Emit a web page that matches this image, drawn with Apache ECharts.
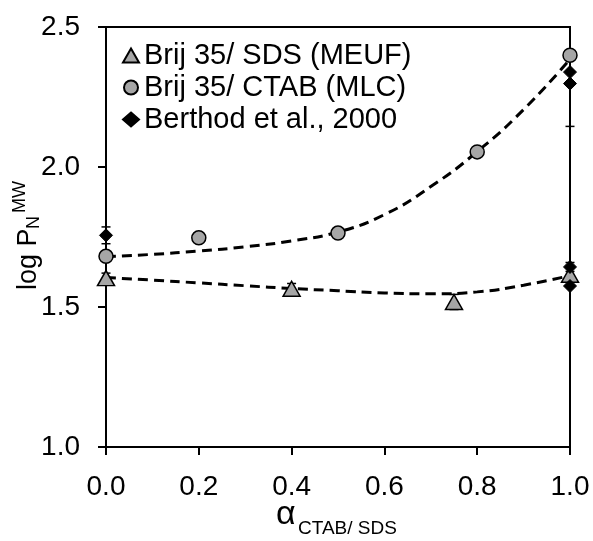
<!DOCTYPE html>
<html>
<head>
<meta charset="utf-8">
<script src="https://cdn.jsdelivr.net/npm/echarts@6/dist/echarts.min.js"></script>
<style>
  html, body { margin: 0; padding: 0; background: #fff; }
  #chart { width: 593px; height: 541px; }
</style>
</head>
<body>
<div id="chart"></div>
<script>
// Partition coefficient (log P) versus CTAB/SDS mole fraction
const FONT = '"Liberation Sans", Arial, sans-serif';

const xTickValues = [0, 0.2, 0.4, 0.6, 0.8, 1.0];
const yTickValues = [1.0, 1.5, 2.0, 2.5];

// Brij 35/ SDS (MEUF)
const meufPoints = [[0, 1.603], [0.4, 1.565], [0.75, 1.518], [1.0, 1.615]];
// Brij 35/ CTAB (MLC)
const mlcPoints = [[0, 1.681], [0.2, 1.747], [0.5, 1.764], [0.8, 2.054], [1.0, 2.399]];
// Berthod et al., 2000
const berthodPoints = [[0, 1.756], [1.0, 2.339], [1.0, 2.298], [1.0, 1.643], [1.0, 1.575]];

// error bars: [x, y, half-width]
const errorBars = [
  [0, 1.603, 0.018], [0.4, 1.565, 0.019], [0.75, 1.518, 0.027],
  [0, 1.756, 0.030], [1.0, 1.643, 0.016], [1.0, 2.399, 0.254]
];

// dashed trend curves
const mlcTrend = [[0, 1.680], [0.1, 1.688], [0.2, 1.700], [0.3, 1.715], [0.4, 1.736],
  [0.5, 1.768], [0.6, 1.830], [0.7, 1.930], [0.8, 2.055], [0.9, 2.205], [1.0, 2.385]];
const meufTrend = [[0, 1.605], [0.1, 1.596], [0.2, 1.586], [0.3, 1.576], [0.4, 1.566],
  [0.5, 1.558], [0.6, 1.550], [0.7, 1.547], [0.8, 1.554], [0.9, 1.578], [1.0, 1.612]];

const GREY = '#a6a6a6';
const Y_MAX = 2.5, Y_MIN = 1.0;

const chart = echarts.init(document.getElementById('chart'), null, { renderer: 'canvas' });

function errorRender(params, api) {
  const x = api.value(0), y = api.value(1), e = api.value(2);
  const hi = Math.min(y + e, Y_MAX), lo = Math.max(y - e, Y_MIN);
  const pHi = api.coord([x, hi]);
  const pLo = api.coord([x, lo]);
  const cap = 4.5;
  const style = { stroke: '#000', lineWidth: 1.5 };
  const children = [{ type: 'line', shape: { x1: pHi[0], y1: pHi[1], x2: pLo[0], y2: pLo[1] }, style }];
  if (y + e <= Y_MAX) children.push({ type: 'line', shape: { x1: pHi[0] - cap, y1: pHi[1], x2: pHi[0] + cap, y2: pHi[1] }, style });
  if (y - e >= Y_MIN) children.push({ type: 'line', shape: { x1: pLo[0] - cap, y1: pLo[1], x2: pLo[0] + cap, y2: pLo[1] }, style });
  return { type: 'group', children };
}

const trendStyle = { color: '#000', width: 3, type: [10, 6] };

chart.setOption({
  animation: false,
  backgroundColor: '#fff',
  grid: { left: 106, right: 23, top: 27, bottom: 94, show: true, borderColor: '#000', borderWidth: 2, backgroundColor: 'transparent' },
  legend: {
    orient: 'vertical', left: 122, top: 41, itemGap: 3, padding: 0,
    itemWidth: 16, itemHeight: 14,
    textStyle: { fontFamily: FONT, fontSize: 29, color: '#000' },
    data: ['Brij 35/ SDS (MEUF)', 'Brij 35/ CTAB (MLC)', 'Berthod et al., 2000']
  },
  xAxis: {
    type: 'value', min: 0, max: 1, interval: 0.2,
    axisLine: { lineStyle: { color: '#000', width: 2 } },
    axisTick: { length: 8, lineStyle: { color: '#000', width: 2 } },
    splitLine: { show: false },
    axisLabel: { margin: 26, fontFamily: FONT, fontSize: 28, color: '#000',
      formatter: v => xTickValues.some(t => Math.abs(t - v) < 1e-9) ? v.toFixed(1) : '' }
  },
  yAxis: {
    type: 'value', min: Y_MIN, max: Y_MAX, interval: 0.5,
    axisLine: { show: true, lineStyle: { color: '#000', width: 2 } },
    axisTick: { show: true, length: 8, lineStyle: { color: '#000', width: 2 } },
    splitLine: { show: false },
    axisLabel: { margin: 26, fontFamily: FONT, fontSize: 28, color: '#000',
      formatter: v => yTickValues.some(t => Math.abs(t - v) < 1e-9) ? v.toFixed(1) : '' }
  },
  series: [
    { name: 'meufTrend', type: 'line', data: meufTrend, smooth: 0.5, symbol: 'none', lineStyle: trendStyle, z: 2 },
    { name: 'mlcTrend', type: 'line', data: mlcTrend, smooth: 0.5, symbol: 'none', lineStyle: trendStyle, z: 2 },
    { name: 'errors', type: 'custom', renderItem: errorRender, data: errorBars, z: 3 },
    { name: 'Brij 35/ SDS (MEUF)', type: 'scatter', data: meufPoints, symbol: 'triangle', symbolSize: [17, 15], clip: false,
      itemStyle: { color: GREY, borderColor: '#000', borderWidth: 1.5, opacity: 1 }, z: 4 },
    { name: 'Brij 35/ CTAB (MLC)', type: 'scatter', data: mlcPoints, symbol: 'circle', symbolSize: 14, clip: false,
      itemStyle: { color: GREY, borderColor: '#000', borderWidth: 1.5, opacity: 1 }, z: 4 },
    { name: 'Berthod et al., 2000', type: 'scatter', data: berthodPoints, symbol: 'diamond', symbolSize: 13, clip: false,
      itemStyle: { color: '#000', borderColor: '#000', borderWidth: 1, opacity: 1 }, z: 5 }
  ],
  graphic: [
    { type: 'text', x: 29, y: 290, rotation: Math.PI / 2,
      style: { text: 'log P', font: '27px ' + FONT, fill: '#000', align: 'left', verticalAlign: 'middle' } },
    { type: 'text', x: 34, y: 229, rotation: Math.PI / 2,
      style: { text: 'N', font: '18px ' + FONT, fill: '#000', align: 'left', verticalAlign: 'middle' } },
    { type: 'text', x: 20, y: 213, rotation: Math.PI / 2,
      style: { text: 'MW', font: '18px ' + FONT, fill: '#000', align: 'left', verticalAlign: 'middle' } },
    { type: 'text', x: 276, y: 515,
      style: { text: 'α', font: '34px ' + FONT, fill: '#000', align: 'left', verticalAlign: 'middle' } },
    { type: 'text', x: 298, y: 529,
      style: { text: 'CTAB/ SDS', font: '19px ' + FONT, fill: '#000', align: 'left', verticalAlign: 'middle' } }
  ]
});
</script>
</body>
</html>
